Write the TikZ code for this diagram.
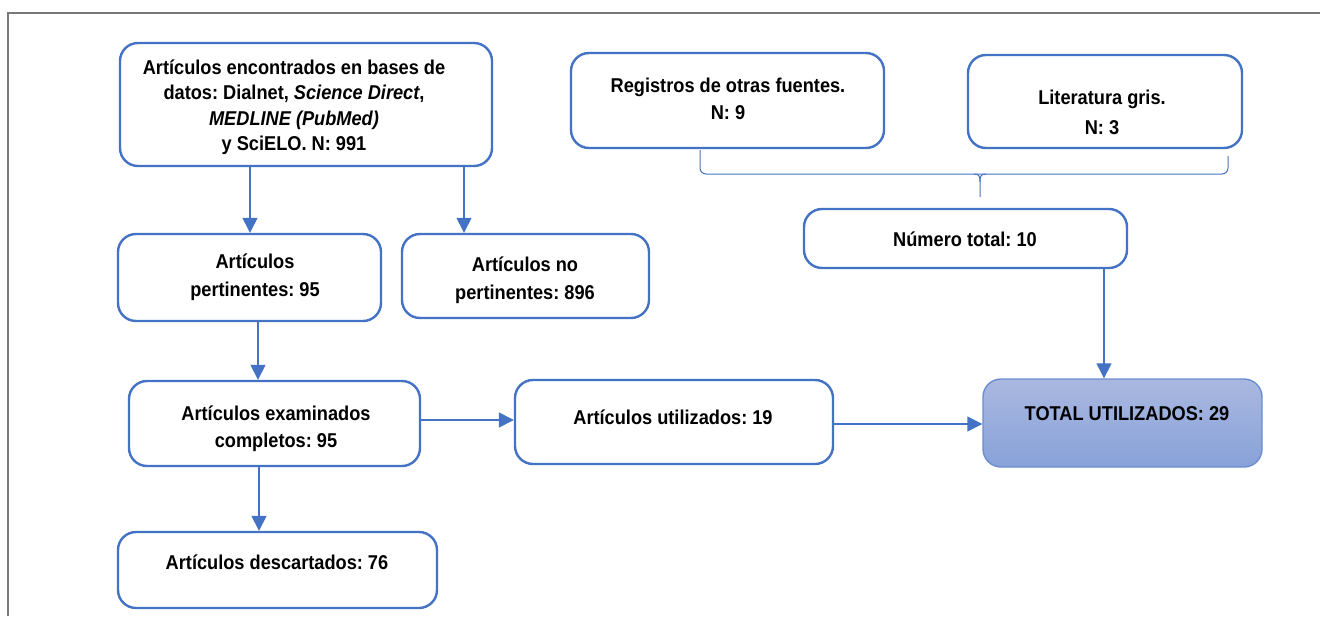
\documentclass[tikz,border=0pt]{standalone}
\usepackage{fontspec}
\setmainfont{Liberation Sans}[FakeStretch=0.91]
\frenchspacing
\usetikzlibrary{arrows.meta}
\definecolor{blu}{RGB}{68,114,196}
\definecolor{topc}{RGB}{170,184,224}
\definecolor{botc}{RGB}{136,162,217}
\definecolor{framec}{RGB}{120,120,120}
\begin{document}
\begin{tikzpicture}[x=1pt,y=-1pt,
  box/.style={draw=blu, line width=2.4pt, rounded corners=18pt, inner sep=0pt, fill=white},
  totbox/.style={draw=blu!80, line width=1.4pt, rounded corners=18pt, inner sep=0pt, top color=topc, bottom color=botc},
  lbl/.style={font=\bfseries\fontsize{20}{25.5}\selectfont, align=center, inner sep=0pt},
  arr/.style={draw=blu, line width=1.4pt, -{Triangle[width=15pt,length=15pt]}},
  brace/.style={draw=blu, line width=1pt, rounded corners=6pt}]
\useasboundingbox (0,0) rectangle (1320,616);
\fill[white] (0,0) rectangle (1320,616);
% frame (top and left only)
\draw[framec, line width=2pt] (8,616) -- (8,13) -- (1320,13);

% boxes
\node[box, minimum width=372pt, minimum height=123pt] (A) at (306,104.5) {};
\node[box, minimum width=313pt, minimum height=95pt] (reg) at (727.5,100.5) {};
\node[box, minimum width=274pt, minimum height=93pt] (lit) at (1105,101.5) {};
\node[box, minimum width=323pt, minimum height=59pt] (num) at (965.5,238.5) {};
\node[box, minimum width=263pt, minimum height=87pt] (pert) at (249.5,277.5) {};
\node[box, minimum width=247pt, minimum height=84pt] (nopert) at (525.5,276) {};
\node[box, minimum width=291pt, minimum height=85pt] (exam) at (274.5,423.5) {};
\node[box, minimum width=318pt, minimum height=84pt] (util) at (674,422) {};
\node[totbox, minimum width=279pt, minimum height=88pt] (total) at (1122.5,423) {};
\node[box, minimum width=319pt, minimum height=76pt] (desc) at (277.5,570) {};

% labels
\node[lbl] (tA) at (294,107) {Artículos encontrados en bases de\\datos: Dialnet, \textit{Science Direct},\\\textit{MEDLINE (PubMed)}\\y SciELO. N: 991};
\node[lbl, font=\bfseries\fontsize{20}{27}\selectfont] (treg) at (728,99) {Registros de otras fuentes.\\N: 9};
\node[lbl, font=\bfseries\fontsize{20}{30}\selectfont] (tlit) at (1102,112) {Literatura gris.\\N: 3};
\node[lbl] (tnum) at (965,239) {Número total: 10};
\node[lbl, font=\bfseries\fontsize{20}{28}\selectfont] (tpert) at (255,277) {Artículos\\pertinentes: 95};
\node[lbl, font=\bfseries\fontsize{20}{28}\selectfont] (tnopert) at (525,280) {Artículos no\\pertinentes: 896};
\node[lbl, font=\bfseries\fontsize{20}{27}\selectfont] (texam) at (276,429) {Artículos examinados\\completos: 95};
\node[lbl] (tutil) at (673,417) {Artículos utilizados: 19};
\node[lbl] (ttotal) at (1127,414) {TOTAL UTILIZADOS: 29};
\node[lbl] (tdesc) at (277,562) {Artículos descartados: 76};

% brace under the two upper-right boxes
\coordinate (bl) at (700,150);
\coordinate (br) at (1228,156);
\coordinate (bt) at (980,197);
\draw[brace] (bl) -- (700,174) -- (980,174) -- (1228,174) -- (br);
\draw[draw=blu, line width=1pt] (974,174) .. controls (979,174) and (980,176) .. (980,182) -- (bt);
\draw[draw=blu, line width=1pt] (986,174) .. controls (981,174) and (980,176) .. (980,182);

% connectors
\draw[arr] (A.south -| 250,0) -- (pert.north -| 250,0);
\draw[arr] (A.south -| 464,0) -- (nopert.north -| 464,0);
\draw[arr] (pert.south -| 258,0) -- (exam.north -| 258,0);
\draw[arr] (exam.south -| 259,0) -- (desc.north -| 259,0);
\draw[arr] (exam.east |- 0,420) -- (util.west |- 0,420);
\draw[arr] (util.east |- 0,424) -- (total.west |- 0,424);
\draw[arr] (num.south -| 1104,0) -- (total.north -| 1104,0);
\end{tikzpicture}
\end{document}
